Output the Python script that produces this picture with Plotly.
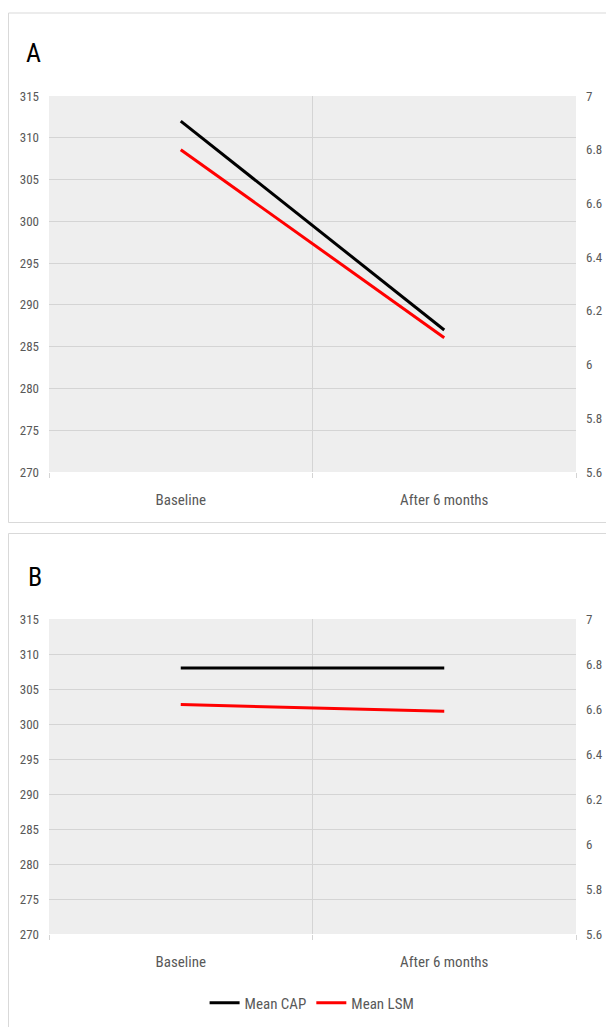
import plotly.graph_objects as go

categories = ["Baseline", "After 6 months"]
a_cap = [312, 287]
a_lsm = [6.8, 6.1]
b_cap = [308, 308]
b_lsm = [6.62, 6.59]
left_ticks = [270, 275, 280, 285, 290, 295, 300, 305, 310, 315]
right_ticks = [5.6, 5.8, 6.0, 6.2, 6.4, 6.6, 6.8, 7.0]
right_labels = ["5.6", "5.8", "6", "6.2", "6.4", "6.6", "6.8", "7"]

W, H = 606, 1027
FONT = "Liberation Sans Narrow, Arial Narrow, Roboto Condensed, sans-serif"
TICKC = "#595959"
GRID = "#d4d4d4"

def py(p):
    return 1 - p / H

fig = go.Figure()
fig.add_trace(go.Scatter(x=categories, y=a_cap, mode="lines", name="Mean CAP",
                         line=dict(color="#000000", width=3), xaxis="x", yaxis="y",
                         legendgroup="cap"))
fig.add_trace(go.Scatter(x=categories, y=a_lsm, mode="lines", name="Mean LSM",
                         line=dict(color="#ff0000", width=3), xaxis="x", yaxis="y2",
                         legendgroup="lsm"))
fig.add_trace(go.Scatter(x=categories, y=b_cap, mode="lines", name="Mean CAP",
                         line=dict(color="#000000", width=3), xaxis="x2", yaxis="y3",
                         showlegend=False, legendgroup="cap"))
fig.add_trace(go.Scatter(x=categories, y=b_lsm, mode="lines", name="Mean LSM",
                         line=dict(color="#ff0000", width=3), xaxis="x2", yaxis="y4",
                         showlegend=False, legendgroup="lsm"))

xdom = [49 / W, 576 / W]
domA = [py(472), py(96)]
domB = [py(934), py(619)]

xcommon = dict(type="category", range=[-0.5, 1.5], tickson="boundaries",
               showgrid=True, gridcolor=GRID, gridwidth=1,
               ticks="outside", ticklen=5, tickcolor=GRID,
               showline=False, zeroline=False, automargin=False,
               tickfont=dict(family=FONT, size=15, color=TICKC),
               ticklabelstandoff=17, domain=xdom, fixedrange=True)
yleft = dict(range=[270, 315], tickvals=left_ticks, showgrid=True, gridcolor=GRID,
             gridwidth=1, zeroline=False, showline=False, automargin=False,
             tickfont=dict(family=FONT, size=13, color=TICKC),
             ticklabelstandoff=9)
yright = dict(range=[5.6, 7.0], tickvals=right_ticks, ticktext=right_labels,
              showgrid=False, zeroline=False, showline=False, side="right",
              automargin=False,
              tickfont=dict(family=FONT, size=13, color=TICKC),
              ticklabelstandoff=9)

fig.update_layout(
    width=W, height=H,
    autosize=False,
    margin=dict(l=0, r=0, t=0, b=0, pad=0),
    paper_bgcolor="white",
    plot_bgcolor="#eeeeee",
    xaxis=dict(**xcommon, anchor="y"),
    xaxis2=dict(**xcommon, anchor="y3"),
    yaxis=dict(**yleft, domain=domA, anchor="x"),
    yaxis2=dict(**yright, domain=domA, anchor="x", overlaying="y"),
    yaxis3=dict(**yleft, domain=domB, anchor="x2"),
    yaxis4=dict(**yright, domain=domB, anchor="x2", overlaying="y3"),
    showlegend=True,
    legend=dict(orientation="h", x=0.515, xanchor="center", y=py(1003), yanchor="middle",
                font=dict(family=FONT, size=15, color=TICKC),
                itemwidth=30, tracegroupgap=0, bgcolor="rgba(0,0,0,0)"),
    shapes=[
        dict(type="rect", xref="paper", yref="paper", x0=8.5 / W, x1=1.01,
             y0=py(522.5), y1=py(13), line=dict(color="#d9d9d9", width=1),
             fillcolor="rgba(0,0,0,0)", layer="below"),
        dict(type="rect", xref="paper", yref="paper", x0=8.5 / W, x1=1.01,
             y0=-0.01, y1=py(533.5), line=dict(color="#d9d9d9", width=1),
             fillcolor="rgba(0,0,0,0)", layer="below"),
    ],
    annotations=[
        dict(text="A", xref="paper", yref="paper", x=24 / W, y=py(53), xanchor="left",
             yanchor="middle", showarrow=False,
             font=dict(family=FONT, size=26, color="#000000")),
        dict(text="B", xref="paper", yref="paper", x=26 / W, y=py(577), xanchor="left",
             yanchor="middle", showarrow=False,
             font=dict(family=FONT, size=26, color="#000000")),
    ],
)

fig.write_html(
    "out.html",
    config={"displayModeBar": False},
    post_script="document.body.style.margin='0';document.body.style.overflow='hidden';",
)
